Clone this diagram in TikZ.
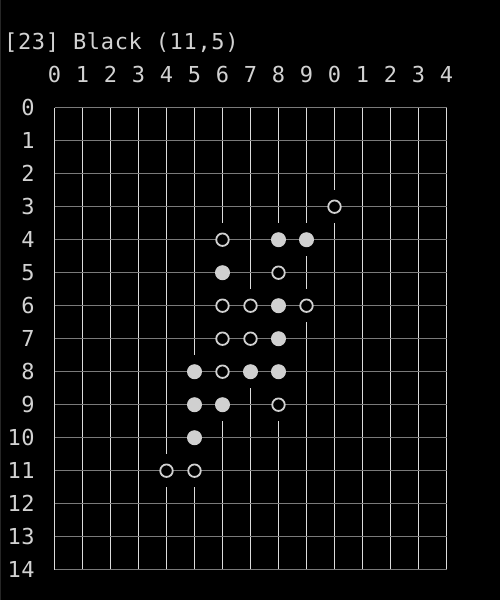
\documentclass[tikz,border=0pt]{standalone}
\usepackage{fontspec}
\newfontfamily\termfont[LetterSpace=3]{DejaVu Sans Mono}
\definecolor{termBg}{HTML}{000000}
\definecolor{termEdge}{HTML}{262626}
\definecolor{termTxt}{HTML}{D2D2D2}
\definecolor{gridH}{HTML}{7A7A7A}
\definecolor{gridV}{HTML}{DCDCDC}
\definecolor{stoneC}{HTML}{D0D0D0}

\begin{document}
\begin{tikzpicture}[x=1pt, y=-1pt,
  lbl/.style={font=\fontsize{22}{22}\selectfont\termfont, text=termTxt, inner sep=0pt},
  hline/.style={draw=gridH, line width=1.4pt},
  vline/.style={draw=gridV, line width=1pt},
  wstone/.style={circle, fill=stoneC, minimum size=15pt, inner sep=0pt},
  bstone/.style={circle, draw=stoneC, fill=termBg, line width=1.8pt, minimum size=12.5pt, inner sep=0pt},
]
% background + window edge
\fill[termBg] (0,0) rectangle (500,600);
\useasboundingbox (0,0) rectangle (500,600);
\draw[termEdge, line width=1pt] (0.5,0) -- (0.5,600);
% title
\node[lbl, anchor=base west] (title) at (4,49.5) {[23] Black (11,5)};
% ---- board ----
\begin{scope}[shift={(54.5,107.7)}, x=28pt, y=-33pt]
  % vertical lines
  \foreach \c in {0,...,14}
    \draw[vline] (\c,0) -- (\c,14);
  % cells holding a stone break the vertical line
  \foreach \r/\c in {3/10, 4/6, 4/8, 4/9, 5/6, 5/8, 6/6, 6/7, 6/8, 6/9, 7/6, 7/7, 7/8,
                     8/5, 8/6, 8/7, 8/8, 9/5, 9/6, 9/8, 10/5, 11/4, 11/5}
    \fill[termBg] ([xshift=-2pt]\c,\r-0.5) rectangle ([xshift=2pt]\c,\r+0.5);
  % horizontal lines
  \foreach \r in {0,...,14}
    \draw[hline] (0,\r) -- (14,\r);
  % labels
  \foreach \c [evaluate=\c as \d using {int(mod(\c,10))}] in {0,...,14}
    \node[lbl, anchor=base] (col-\c) at (\c,-0.75) {\d};
  \foreach \r in {0,...,14}
    \node[lbl, anchor=east] (row-\r) at (-0.7,\r) {\r};
  % stones
  \foreach \r/\c/\k in {3/10/bstone,
                        4/6/bstone, 4/8/wstone, 4/9/wstone,
                        5/6/wstone, 5/8/bstone,
                        6/6/bstone, 6/7/bstone, 6/8/wstone, 6/9/bstone,
                        7/6/bstone, 7/7/bstone, 7/8/wstone,
                        8/5/wstone, 8/6/bstone, 8/7/wstone, 8/8/wstone,
                        9/5/wstone, 9/6/wstone, 9/8/bstone,
                        10/5/wstone,
                        11/4/bstone, 11/5/bstone}
    \node[\k] (s-\r-\c) at (\c,\r) {};
\end{scope}
\end{tikzpicture}
\end{document}
